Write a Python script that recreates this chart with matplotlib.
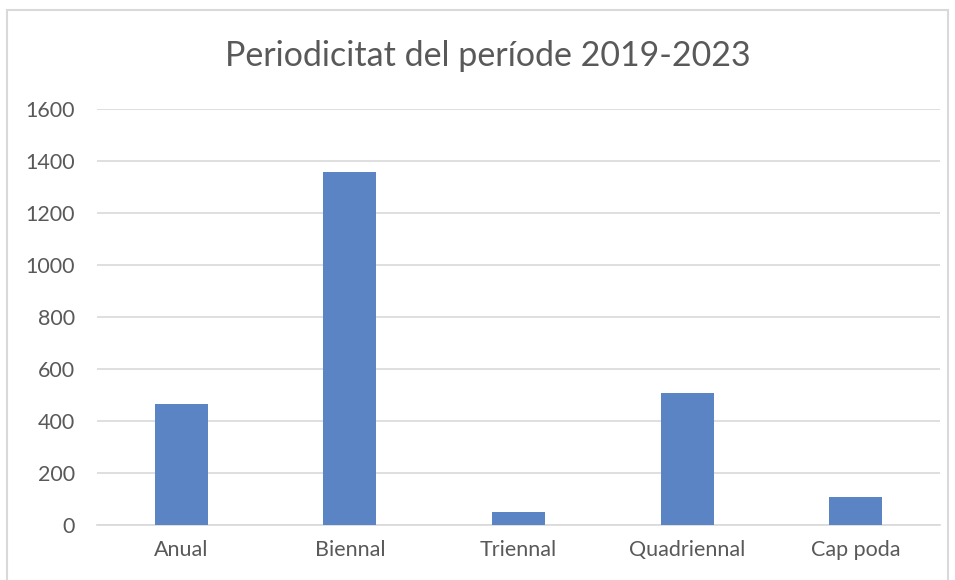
import matplotlib.pyplot as plt
from matplotlib.patches import Rectangle

categories = ['Anual', 'Biennal', 'Triennal', 'Quadriennal', 'Cap poda']
values = [465, 1358, 50, 507, 108]
yticks = [0, 200, 400, 600, 800, 1000, 1200, 1400, 1600]

plt.rcParams['font.family'] = ['Lato', 'DejaVu Sans']

fig = plt.figure(figsize=(9.55, 5.8), dpi=100)
ax = fig.add_axes([0.1016, 0.0948, 0.8827, 0.7172])

# marc del gràfic
fig.patches.append(Rectangle((7 / 955, -0.01), 941 / 955, 1 - 10 / 580 + 0.01,
                             transform=fig.transFigure, fill=False,
                             edgecolor='#d9d9d9', linewidth=1.5))

x = range(len(categories))
ax.bar(x, values, width=0.315, color='#5b84c4', zorder=3)

ax.set_xlim(-0.5, len(categories) - 0.5)
ax.set_ylim(0, 1600)
ax.set_yticks(yticks)
ax.set_xticks(list(x))
ax.set_xticklabels(categories)
ax.grid(axis='y', color='#d9d9d9', linewidth=1.2, zorder=0)
for s in ['top', 'right', 'left']:
    ax.spines[s].set_visible(False)
ax.spines['bottom'].set_color('#d9d9d9')
ax.spines['bottom'].set_linewidth(1.2)
ax.tick_params(axis='both', length=0, labelsize=15.5, labelcolor='#595959')
ax.tick_params(axis='x', pad=11)
ax.tick_params(axis='y', pad=16)

fig.text(488 / 955, 1 - 56 / 580, 'Periodicitat del període 2019-2023', ha='center', va='center',
         fontsize=24.5, color='#595959')

fig.savefig('out.png', dpi=100)
